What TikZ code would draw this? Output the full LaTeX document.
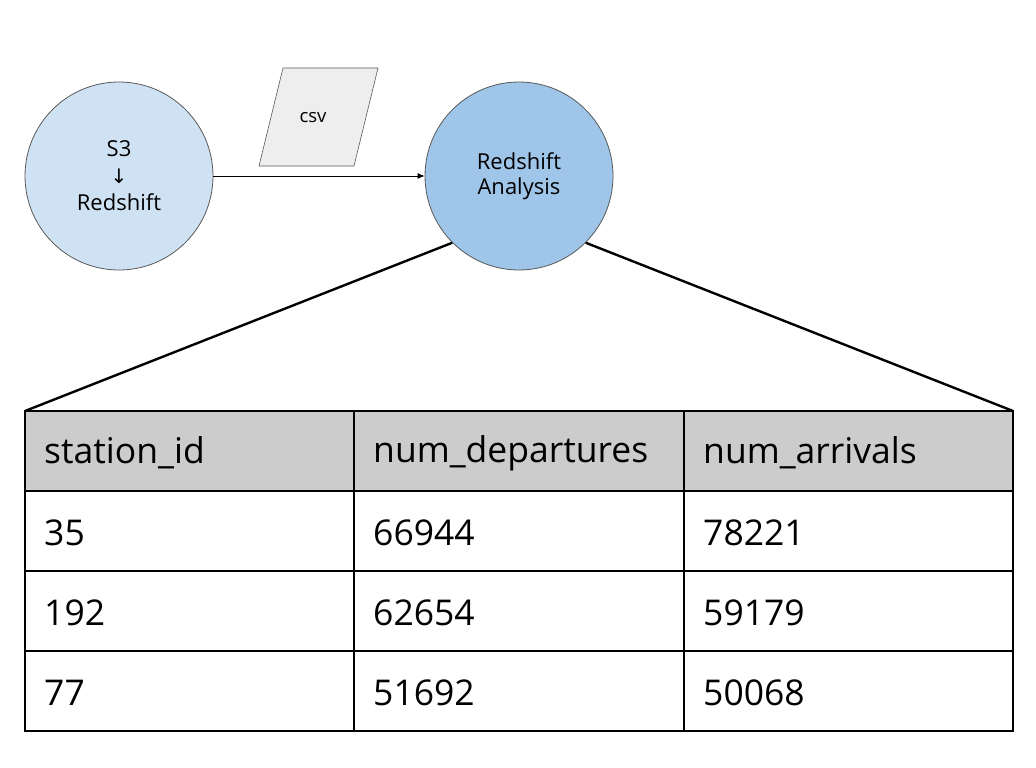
\documentclass[tikz,border=0pt]{standalone}
\usepackage{fontspec}
\setmainfont{Open Sans}
\newfontfamily\symfont{DejaVu Sans}
\usetikzlibrary{arrows.meta}
\definecolor{lightblue}{HTML}{CFE2F3}
\definecolor{midblue}{HTML}{9FC5E8}
\definecolor{stroke}{HTML}{595959}
\definecolor{csvfill}{HTML}{EEEEEE}
\definecolor{headfill}{HTML}{CCCCCC}
\tikzset{
  proc/.style={circle, draw=stroke, line width=0.8pt, minimum size=188pt, inner sep=0pt, align=center, font=\fontsize{22}{27}\selectfont},
  celltext/.style={anchor=west, font=\fontsize{35.5}{40}\selectfont, inner sep=0pt},
  zoomline/.style={line width=2.4pt, black},
  grid/.style={line width=1.6pt, black}
}
\begin{document}
\begin{tikzpicture}[x=1pt,y=-1pt]
\useasboundingbox (0,0) rectangle (1036,768);
\node[proc, fill=lightblue] (s3) at (119,176) {S3\\{\symfont\fontsize{20}{27}\selectfont ↓}\\Redshift};
\node[proc, fill=midblue] (rs) at (519,176) {\raisebox{-2pt}{Redshift}\\Analysis};
\draw[fill=csvfill, draw=stroke, line width=0.6pt] (283,68) -- (378,68) -- (354,166) -- (259,166) -- cycle;
\node[font=\fontsize{18.5}{20}\selectfont] (csv) at (313,118) {csv};
\draw[stroke, line width=0.8pt, -{Latex[length=7pt,width=6pt]}] (s3.east) -- (rs.west);
% table
\fill[headfill] (25,411) rectangle (1013,491);
\coordinate (tl) at (25,411);
\coordinate (tr) at (1013,411);
\draw[zoomline] (rs.-135) -- (tl);
\draw[zoomline] (rs.-45) -- (tr);
\draw[grid] (25,411) rectangle (1013,731);
\foreach \y in {491,571,651} \draw[grid] (25,\y) -- (1013,\y);
\foreach \x in {354,684} \draw[grid] (\x,411) -- (\x,731);
\node[celltext] (h1) at (44,453) {station\_id};
\node[celltext] (h2) at (373,453) {num\_departures};
\node[celltext] (h3) at (703,453) {num\_arrivals};
\node[celltext] (a1) at (44,533) {35};
\node[celltext] (a2) at (373,533) {66944};
\node[celltext] (a3) at (703,533) {78221};
\node[celltext] (b1) at (44,613) {192};
\node[celltext] (b2) at (373,613) {62654};
\node[celltext] (b3) at (703,613) {59179};
\node[celltext] (c1) at (44,693) {77};
\node[celltext] (c2) at (373,693) {51692};
\node[celltext] (c3) at (703,693) {50068};
\end{tikzpicture}
\end{document}
